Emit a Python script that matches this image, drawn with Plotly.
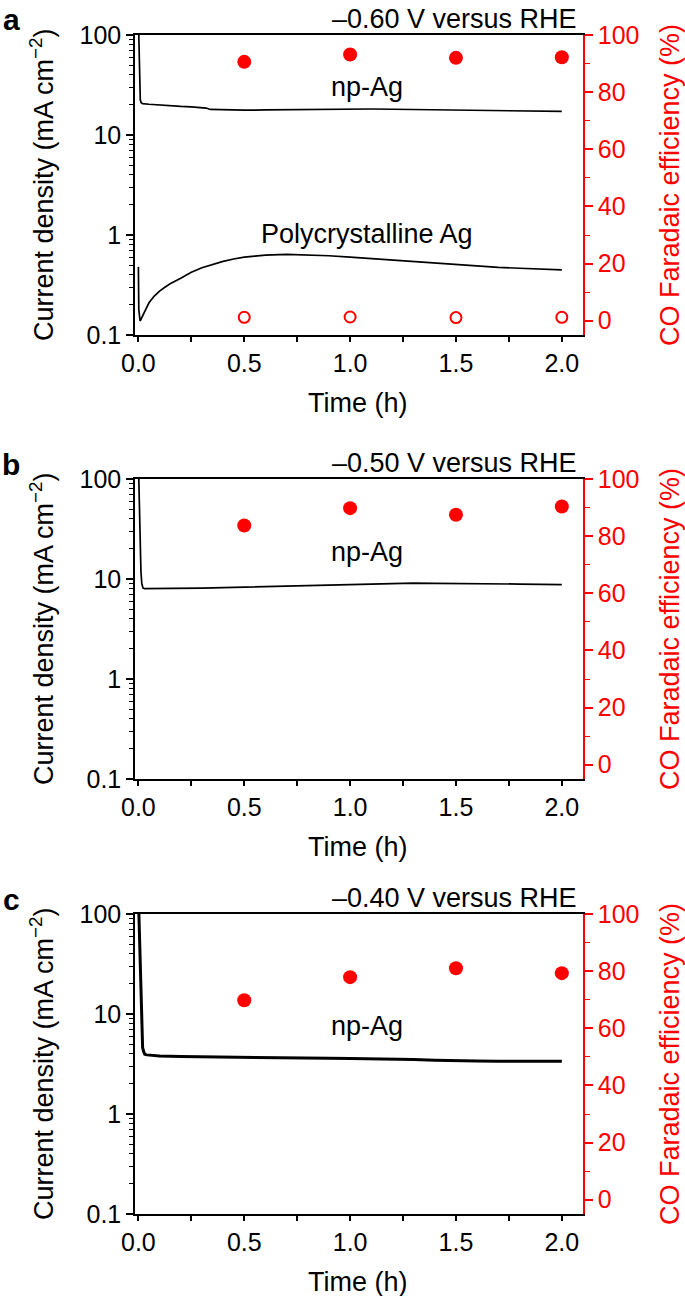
import plotly.graph_objects as go

# ---------------- data ----------------
time_a_np = [0.0, 0.003, 0.006, 0.009, 0.013, 0.02, 0.05, 0.1, 0.15, 0.2, 0.25, 0.3, 0.32, 0.34,
             0.4, 0.5, 0.6, 0.7, 0.8, 0.9, 1.0, 1.1, 1.2, 1.3, 1.4, 1.5, 1.6, 1.7, 1.8, 1.9, 2.0]
j_a_np = [150, 60, 28, 22.5, 21.0, 20.6, 20.3, 19.9, 19.6, 19.3, 19.1, 18.9, 18.6, 18.0,
          17.8, 17.7, 17.8, 17.9, 18.0, 18.1, 18.2, 18.2, 18.1, 18.0, 17.9, 17.8, 17.7, 17.6, 17.4, 17.3, 17.2]

time_a_poly = [0.0, 0.002, 0.008, 0.02, 0.035, 0.05, 0.075, 0.1, 0.125, 0.15, 0.2, 0.25, 0.3, 0.35,
               0.4, 0.45, 0.5, 0.55, 0.6, 0.7, 0.8, 0.9, 1.0, 1.1, 1.2, 1.3, 1.4, 1.5, 1.6, 1.7, 1.8, 1.9, 2.0]
j_a_poly = [0.48, 0.18, 0.138, 0.155, 0.185, 0.21, 0.245, 0.275, 0.30, 0.325, 0.37, 0.425, 0.47, 0.51,
            0.545, 0.575, 0.60, 0.615, 0.63, 0.64, 0.635, 0.62, 0.60, 0.58, 0.56, 0.54, 0.52, 0.505, 0.49,
            0.475, 0.465, 0.455, 0.447]

time_b_np = [0.0, 0.004, 0.008, 0.012, 0.016, 0.022, 0.03, 0.1, 0.2, 0.3, 0.4, 0.5, 0.6, 0.7, 0.8, 0.9,
             1.0, 1.1, 1.2, 1.3, 1.4, 1.5, 1.6, 1.7, 1.8, 1.9, 2.0]
j_b_np = [150, 60, 25, 12, 9.0, 8.1, 8.0, 8.0, 8.05, 8.1, 8.2, 8.3, 8.4, 8.5, 8.6, 8.75,
          8.9, 9.0, 9.1, 9.1, 9.05, 9.05, 9.0, 8.95, 8.9, 8.85, 8.8]

time_c_np = [0.0, 0.005, 0.01, 0.015, 0.02, 0.025, 0.03, 0.04, 0.1, 0.2, 0.3, 0.4, 0.5, 0.6, 0.7, 0.8,
             0.9, 1.0, 1.1, 1.2, 1.3, 1.4, 1.5, 1.6, 1.7, 1.8, 1.9, 2.0]
j_c_np = [150, 60, 20, 7.0, 4.6, 4.2, 3.95, 3.9, 3.8, 3.75, 3.72, 3.7, 3.68, 3.65, 3.62, 3.6,
          3.6, 3.58, 3.57, 3.55, 3.5, 3.45, 3.4, 3.38, 3.37, 3.36, 3.35, 3.37]

fe_time = [0.5, 1.0, 1.5, 2.0]
fe_a_np = [90.6, 93.2, 92.0, 92.2]
fe_a_poly = [1.2, 1.3, 1.1, 1.2]
fe_b_np = [83.7, 89.8, 87.5, 90.4]
fe_c_np = [69.8, 77.9, 81.0, 79.3]

panel_letters = ["a", "b", "c"]
potentials = ["–0.60 V versus RHE", "–0.50 V versus RHE", "–0.40 V versus RHE"]
x_tickvals = [0, 0.5, 1.0, 1.5, 2.0]
x_ticktext = ["0.0", "0.5", "1.0", "1.5", "2.0"]
x_minor = [0.25, 0.75, 1.25, 1.75]
y_tickvals = [0.1, 1, 10, 100]
y_ticktext = ["0.1", "1", "10", "100"]
y_minor = [0.2, 0.3, 0.4, 0.5, 0.6, 0.7, 0.8, 0.9, 2, 3, 4, 5, 6, 7, 8, 9, 20, 30, 40, 50, 60, 70, 80, 90]
fe_tickvals = [0, 20, 40, 60, 80, 100]

# ---------------- layout helpers ----------------
W, H = 685, 1296
ML, MR, MT, MB = 135, 102, 35, 82
PW = W - ML - MR
PH = H - MT - MB


def pxx(x):
    return (x - ML) / PW


def pxy(y):
    return 1 - (y - MT) / PH


panel_px = [(35, 335), (479, 779), (914, 1214)]
FONT = "Liberation Sans, Arial, Helvetica, sans-serif"
RED = "#ff0000"
TICKF = 25
LABF = 27

fig = go.Figure()

lines = [
    [(time_a_np, j_a_np), (time_a_poly, j_a_poly)],
    [(time_b_np, j_b_np)],
    [(time_c_np, j_c_np)],
]
fe_filled = [fe_a_np, fe_b_np, fe_c_np]


def ann(text, x, y, size=LABF, color="black", angle=0, xanchor="center", bold=False):
    fig.add_annotation(text=(f"<b>{text}</b>" if bold else text), xref="paper", yref="paper",
                       x=pxx(x), y=pxy(y), xanchor=xanchor, yanchor="middle",
                       textangle=angle, showarrow=False,
                       font=dict(size=size, color=color, family=FONT))


for i in range(3):
    xa = "x" if i == 0 else f"x{i + 1}"
    yl = "y" if i == 0 else f"y{i + 1}"
    yr = f"y{i + 4}"
    for (t, j) in lines[i]:
        fig.add_trace(go.Scatter(x=t, y=j, mode="lines", xaxis=xa, yaxis=yl,
                                 line=dict(color="black", width=3.0 if i == 2 else 1.7),
                                 showlegend=False, hoverinfo="skip"))
    fig.add_trace(go.Scatter(x=fe_time, y=fe_filled[i], mode="markers", xaxis=xa, yaxis=yr,
                             marker=dict(symbol="circle", size=14, color=RED),
                             showlegend=False))
    if i == 0:
        fig.add_trace(go.Scatter(x=fe_time, y=fe_a_poly, mode="markers", xaxis=xa, yaxis=yr,
                                 marker=dict(symbol="circle-open", size=11, color=RED,
                                             line=dict(width=2, color=RED)),
                                 showlegend=False))

    top, bot = panel_px[i]
    dom = [pxy(bot), pxy(top)]
    xkey = "xaxis" if i == 0 else f"xaxis{i + 1}"
    ylkey = "yaxis" if i == 0 else f"yaxis{i + 1}"
    yrkey = f"yaxis{i + 4}"
    fig.layout[xkey] = dict(domain=[0, 1], range=[-0.016, 2.10], anchor=yl,
                            tickvals=x_tickvals, ticktext=x_ticktext,
                            ticks="outside", ticklen=5, tickwidth=1.5, tickcolor="black",
                            minor=dict(tickvals=x_minor, ticks="outside", ticklen=5,
                                       tickwidth=1.5, tickcolor="black", showgrid=False),
                            showline=True, linecolor="black", linewidth=1.5, mirror=True,
                            showgrid=False, zeroline=False,
                            tickfont=dict(size=TICKF, color="black", family=FONT))
    fig.layout[ylkey] = dict(domain=dom, type="log", range=[-1, 2], anchor=xa,
                             tickvals=y_tickvals, ticktext=y_ticktext,
                             ticks="outside", ticklen=7, tickwidth=1.5, tickcolor="black",
                             minor=dict(tickvals=y_minor, ticks="outside", ticklen=4,
                                        tickwidth=1.2, tickcolor="black", showgrid=False),
                             showline=True, linecolor="black", linewidth=1.5,
                             showgrid=False, zeroline=False,
                             tickfont=dict(size=TICKF, color="black", family=FONT))
    fig.layout[yrkey] = dict(overlaying=yl, side="right", anchor=xa, range=[-5, 100],
                             tickvals=fe_tickvals,
                             ticks="outside", ticklen=8, tickwidth=1.5, tickcolor=RED,
                             minor=dict(dtick=10, ticks="outside", ticklen=5, tickwidth=1.2,
                                        tickcolor=RED, showgrid=False),
                             showline=True, linecolor=RED, linewidth=1.5,
                             showgrid=False, zeroline=False,
                             tickfont=dict(size=TICKF, color=RED, family=FONT))

    ymid = (top + bot) / 2
    ann(panel_letters[i], 11, top - 15, size=30, bold=True)
    ann(potentials[i], 579, top - 16, xanchor="right")
    ann("Current density (mA cm<sup>−2</sup>)", 42, ymid, angle=-90)
    ann("CO Faradaic efficiency (%)", 670, ymid, color=RED, angle=-90)
    ann("Time (h)", 358, bot + 68)

# in-plot labels
ann("np-Ag", 367, 87)
ann("Polycrystalline Ag", 367, 234)
ann("np-Ag", 367, 552)
ann("np-Ag", 367, 1026)

fig.update_layout(width=W, height=H, margin=dict(l=ML, r=MR, t=MT, b=MB, autoexpand=False),
                  paper_bgcolor="white", plot_bgcolor="white",
                  font=dict(family=FONT, color="black"), showlegend=False)

fig.write_html("out.html", config={"displayModeBar": False},
               post_script="document.body.style.margin='0';document.body.style.padding='0';")
